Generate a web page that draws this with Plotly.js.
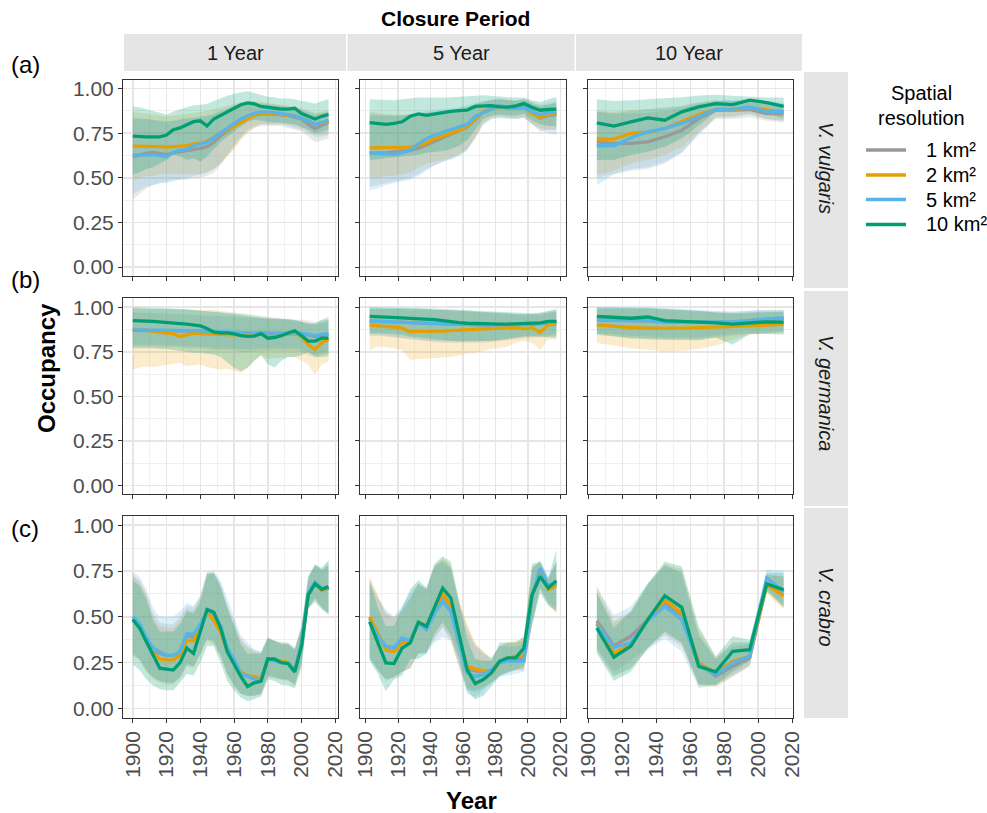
<!DOCTYPE html>
<html>
<head>
<meta charset="utf-8">
<script src="https://cdn.plot.ly/plotly-3.0.1.min.js"></script>
<style>html,body{margin:0;padding:0;background:#fff}#chart{width:987px;height:813px}</style>
</head>
<body>
<div id="chart"></div>
<script>
// ---------- DATA ----------
const resolutions = ["1 km²", "2 km²", "5 km²", "10 km²"];
const periods = ["1 Year", "5 Year", "10 Year"];
const species = ["V. vulgaris", "V. germanica", "V. crabro"];
const panelTags = ["(a)", "(b)", "(c)"];
const xTicks = [1900, 1920, 1940, 1960, 1980, 2000, 2020];
const yTicks = [0, 0.25, 0.5, 0.75, 1];

const years_1yr = [1900,1904,1908,1912,1916,1920,1924,1928,1932,1936,1940,1944,1948,1952,1956,1960,1964,1968,1972,1976,1980,1984,1988,1992,1996,2000,2004,2008,2012,2016];
const years_5yr = [1902.5,1907.5,1912.5,1917.5,1922.5,1927.5,1932.5,1937.5,1942.5,1947.5,1952.5,1957.5,1962.5,1967.5,1972.5,1977.5,1982.5,1987.5,1992.5,1997.5,2002.5,2007.5,2012.5,2017.5];
const years_10yr = [1905,1915,1925,1935,1945,1955,1965,1975,1985,1995,2005,2015];

// V. vulgaris, 1 year closure
const vul_1yr_1km    = [0.618,0.628,0.638,0.643,0.638,0.630,0.640,0.646,0.650,0.655,0.665,0.675,0.700,0.735,0.765,0.790,0.815,0.840,0.855,0.860,0.858,0.855,0.855,0.850,0.840,0.830,0.800,0.775,0.795,0.810];
const vul_1yr_1km_lo = [0.38,0.41,0.44,0.46,0.47,0.48,0.49,0.49,0.49,0.50,0.50,0.51,0.53,0.57,0.62,0.67,0.72,0.76,0.78,0.79,0.79,0.79,0.79,0.78,0.77,0.76,0.73,0.70,0.71,0.72];
const vul_1yr_1km_hi = [0.83,0.83,0.83,0.825,0.82,0.815,0.82,0.825,0.83,0.835,0.84,0.845,0.855,0.87,0.885,0.90,0.91,0.915,0.915,0.91,0.91,0.905,0.90,0.895,0.89,0.88,0.865,0.85,0.86,0.87];
const vul_1yr_2km    = [0.678,0.678,0.675,0.675,0.675,0.672,0.675,0.675,0.680,0.690,0.695,0.705,0.730,0.750,0.770,0.790,0.815,0.835,0.850,0.858,0.860,0.858,0.855,0.850,0.848,0.835,0.820,0.800,0.810,0.817];
const vul_1yr_2km_lo = [0.49,0.50,0.51,0.51,0.52,0.52,0.52,0.52,0.52,0.52,0.52,0.53,0.55,0.58,0.62,0.66,0.71,0.75,0.78,0.80,0.80,0.80,0.80,0.80,0.79,0.78,0.76,0.74,0.74,0.75];
const vul_1yr_2km_hi = [0.87,0.865,0.86,0.855,0.85,0.845,0.85,0.855,0.86,0.865,0.87,0.875,0.885,0.895,0.905,0.915,0.925,0.93,0.93,0.925,0.92,0.915,0.91,0.905,0.90,0.89,0.88,0.865,0.87,0.88];
const vul_1yr_5km    = [0.628,0.630,0.632,0.630,0.625,0.620,0.645,0.655,0.660,0.680,0.690,0.700,0.725,0.750,0.775,0.800,0.830,0.848,0.862,0.868,0.870,0.865,0.860,0.855,0.848,0.835,0.815,0.800,0.810,0.823];
const vul_1yr_5km_lo = [0.41,0.43,0.45,0.46,0.47,0.47,0.48,0.49,0.50,0.51,0.52,0.53,0.55,0.58,0.63,0.68,0.73,0.77,0.79,0.80,0.80,0.80,0.80,0.79,0.78,0.77,0.75,0.73,0.73,0.74];
const vul_1yr_5km_hi = [0.84,0.835,0.83,0.825,0.82,0.815,0.82,0.83,0.835,0.84,0.845,0.85,0.86,0.875,0.89,0.905,0.915,0.92,0.92,0.92,0.915,0.91,0.905,0.90,0.89,0.88,0.87,0.86,0.865,0.87];
const vul_1yr_10km    = [0.734,0.730,0.730,0.730,0.730,0.740,0.770,0.780,0.800,0.815,0.820,0.790,0.830,0.850,0.865,0.885,0.910,0.920,0.915,0.900,0.895,0.890,0.885,0.885,0.890,0.860,0.845,0.830,0.845,0.855];
const vul_1yr_10km_lo = [0.52,0.53,0.55,0.56,0.58,0.60,0.63,0.62,0.60,0.61,0.59,0.62,0.66,0.70,0.73,0.76,0.79,0.815,0.825,0.82,0.815,0.81,0.81,0.805,0.80,0.785,0.77,0.75,0.76,0.77];
const vul_1yr_10km_hi = [0.90,0.895,0.885,0.875,0.865,0.855,0.87,0.885,0.895,0.905,0.91,0.915,0.93,0.945,0.96,0.97,0.98,0.985,0.975,0.965,0.955,0.95,0.945,0.945,0.94,0.93,0.925,0.915,0.93,0.94];

// V. vulgaris, 5 year closure
const vul_5yr_1km    = [0.64,0.64,0.64,0.645,0.65,0.655,0.665,0.685,0.705,0.725,0.74,0.76,0.785,0.825,0.87,0.89,0.90,0.895,0.89,0.90,0.865,0.835,0.85,0.855];
const vul_5yr_1km_lo = [0.45,0.46,0.47,0.48,0.49,0.50,0.52,0.55,0.57,0.59,0.61,0.63,0.66,0.72,0.80,0.83,0.84,0.835,0.83,0.84,0.80,0.76,0.77,0.77];
const vul_5yr_1km_hi = [0.85,0.85,0.85,0.85,0.85,0.855,0.86,0.865,0.87,0.875,0.88,0.885,0.895,0.91,0.925,0.935,0.94,0.935,0.93,0.94,0.92,0.905,0.91,0.92];
const vul_5yr_2km    = [0.668,0.668,0.668,0.668,0.668,0.672,0.68,0.695,0.72,0.735,0.748,0.765,0.79,0.83,0.87,0.885,0.90,0.89,0.89,0.895,0.86,0.84,0.855,0.86];
const vul_5yr_2km_lo = [0.50,0.50,0.51,0.51,0.52,0.53,0.56,0.58,0.59,0.60,0.61,0.63,0.66,0.72,0.81,0.84,0.845,0.835,0.835,0.84,0.80,0.78,0.77,0.77];
const vul_5yr_2km_hi = [0.87,0.865,0.86,0.855,0.855,0.855,0.86,0.865,0.87,0.875,0.88,0.885,0.895,0.91,0.925,0.935,0.94,0.935,0.93,0.94,0.915,0.90,0.91,0.92];
const vul_5yr_5km    = [0.64,0.637,0.633,0.632,0.64,0.655,0.69,0.72,0.74,0.755,0.767,0.782,0.80,0.845,0.865,0.89,0.905,0.895,0.89,0.893,0.87,0.855,0.865,0.865];
const vul_5yr_5km_lo = [0.43,0.44,0.46,0.47,0.48,0.49,0.51,0.54,0.57,0.59,0.60,0.62,0.65,0.73,0.80,0.83,0.835,0.83,0.83,0.835,0.80,0.77,0.75,0.74];
const vul_5yr_5km_hi = [0.86,0.855,0.85,0.85,0.85,0.855,0.865,0.875,0.88,0.885,0.89,0.895,0.905,0.92,0.93,0.94,0.945,0.94,0.935,0.94,0.925,0.91,0.92,0.93];
const vul_5yr_10km    = [0.81,0.806,0.80,0.805,0.814,0.845,0.858,0.85,0.858,0.866,0.872,0.877,0.879,0.90,0.903,0.905,0.898,0.896,0.903,0.916,0.895,0.879,0.883,0.885];
const vul_5yr_10km_lo = [0.60,0.605,0.61,0.615,0.62,0.625,0.63,0.64,0.645,0.65,0.66,0.68,0.71,0.77,0.83,0.85,0.855,0.85,0.85,0.86,0.82,0.80,0.79,0.79];
const vul_5yr_10km_hi = [0.94,0.937,0.935,0.935,0.94,0.945,0.95,0.95,0.948,0.95,0.952,0.955,0.958,0.962,0.963,0.96,0.955,0.952,0.95,0.95,0.935,0.925,0.94,0.953];

// V. vulgaris, 10 year closure
const vul_10yr_1km    = [0.702,0.693,0.693,0.702,0.73,0.767,0.832,0.879,0.879,0.883,0.86,0.86];
const vul_10yr_1km_lo = [0.50,0.52,0.54,0.55,0.58,0.64,0.75,0.83,0.83,0.84,0.82,0.81];
const vul_10yr_1km_hi = [0.87,0.86,0.86,0.865,0.875,0.89,0.915,0.93,0.93,0.93,0.915,0.905];
const vul_10yr_2km    = [0.717,0.717,0.749,0.754,0.777,0.814,0.855,0.883,0.883,0.892,0.879,0.87];
const vul_10yr_2km_lo = [0.516,0.54,0.58,0.60,0.63,0.67,0.76,0.84,0.845,0.86,0.83,0.82];
const vul_10yr_2km_hi = [0.88,0.87,0.88,0.885,0.89,0.90,0.92,0.93,0.93,0.935,0.925,0.91];
const vul_10yr_5km    = [0.68,0.68,0.724,0.758,0.777,0.805,0.842,0.883,0.885,0.897,0.87,0.873];
const vul_10yr_5km_lo = [0.46,0.52,0.55,0.56,0.59,0.64,0.74,0.84,0.84,0.855,0.83,0.82];
const vul_10yr_5km_hi = [0.87,0.86,0.875,0.885,0.895,0.905,0.925,0.935,0.935,0.94,0.93,0.92];
const vul_10yr_10km    = [0.808,0.79,0.814,0.836,0.823,0.87,0.898,0.916,0.91,0.935,0.922,0.90];
const vul_10yr_10km_lo = [0.60,0.60,0.628,0.646,0.674,0.72,0.795,0.87,0.87,0.879,0.86,0.832];
const vul_10yr_10km_hi = [0.94,0.93,0.935,0.94,0.945,0.952,0.962,0.966,0.96,0.955,0.95,0.95];

// V. germanica, 1 year closure
const ger_1yr_1km    = [0.87,0.87,0.87,0.869,0.868,0.868,0.867,0.866,0.866,0.865,0.863,0.861,0.858,0.856,0.855,0.854,0.854,0.853,0.853,0.852,0.852,0.851,0.851,0.851,0.851,0.85,0.843,0.835,0.842,0.848];
const ger_1yr_1km_lo = [0.78,0.78,0.78,0.78,0.775,0.775,0.775,0.775,0.77,0.77,0.77,0.765,0.76,0.76,0.76,0.755,0.75,0.75,0.75,0.755,0.755,0.755,0.755,0.755,0.755,0.75,0.73,0.72,0.73,0.74];
const ger_1yr_1km_hi = [0.97,0.97,0.97,0.968,0.966,0.964,0.962,0.96,0.958,0.956,0.954,0.952,0.95,0.948,0.946,0.944,0.942,0.94,0.938,0.936,0.934,0.932,0.93,0.93,0.93,0.93,0.925,0.915,0.925,0.93];
const ger_1yr_2km    = [0.877,0.875,0.87,0.865,0.86,0.857,0.85,0.835,0.845,0.855,0.852,0.85,0.847,0.845,0.845,0.845,0.845,0.847,0.85,0.856,0.836,0.838,0.842,0.85,0.855,0.835,0.79,0.762,0.80,0.82];
const ger_1yr_2km_lo = [0.649,0.66,0.668,0.665,0.67,0.675,0.68,0.687,0.67,0.675,0.68,0.665,0.655,0.649,0.655,0.645,0.63,0.66,0.70,0.73,0.71,0.715,0.715,0.72,0.72,0.70,0.68,0.62,0.68,0.696];
const ger_1yr_2km_hi = [1.0,0.995,0.99,0.99,0.99,0.99,0.99,0.99,0.99,0.985,0.985,0.985,0.985,0.98,0.975,0.97,0.965,0.96,0.955,0.95,0.945,0.94,0.935,0.93,0.925,0.915,0.905,0.90,0.91,0.92];
const ger_1yr_5km    = [0.873,0.873,0.872,0.872,0.871,0.87,0.87,0.87,0.87,0.869,0.867,0.865,0.862,0.86,0.858,0.858,0.857,0.857,0.857,0.857,0.856,0.856,0.856,0.856,0.856,0.855,0.848,0.84,0.848,0.852];
const ger_1yr_5km_lo = [0.79,0.79,0.79,0.79,0.79,0.785,0.785,0.785,0.78,0.78,0.78,0.775,0.77,0.77,0.77,0.77,0.765,0.765,0.765,0.77,0.77,0.77,0.77,0.77,0.77,0.765,0.745,0.735,0.745,0.755];
const ger_1yr_5km_hi = [0.99,0.99,0.99,0.99,0.99,0.99,0.99,0.985,0.985,0.985,0.98,0.978,0.975,0.972,0.97,0.967,0.965,0.96,0.955,0.95,0.945,0.94,0.935,0.93,0.925,0.915,0.91,0.905,0.915,0.93];
const ger_1yr_10km    = [0.925,0.925,0.922,0.92,0.918,0.916,0.913,0.908,0.905,0.902,0.896,0.88,0.86,0.856,0.856,0.85,0.84,0.836,0.838,0.852,0.826,0.83,0.84,0.855,0.868,0.84,0.81,0.81,0.826,0.826];
const ger_1yr_10km_lo = [0.77,0.77,0.77,0.77,0.765,0.765,0.76,0.755,0.75,0.745,0.745,0.74,0.735,0.72,0.69,0.66,0.64,0.66,0.70,0.73,0.68,0.66,0.70,0.72,0.72,0.73,0.75,0.72,0.72,0.725];
const ger_1yr_10km_hi = [1.0,1.0,0.998,0.996,0.995,0.994,0.993,0.99,0.988,0.985,0.982,0.98,0.975,0.97,0.965,0.96,0.955,0.95,0.945,0.94,0.935,0.935,0.935,0.935,0.93,0.92,0.91,0.91,0.93,0.945];

// V. germanica, 5 year closure
const ger_5yr_1km    = [0.922,0.921,0.919,0.917,0.915,0.913,0.911,0.909,0.907,0.905,0.904,0.903,0.902,0.901,0.90,0.90,0.90,0.901,0.902,0.903,0.904,0.907,0.913,0.918];
const ger_5yr_1km_lo = [0.84,0.84,0.835,0.83,0.825,0.82,0.815,0.81,0.805,0.80,0.80,0.80,0.80,0.80,0.80,0.805,0.81,0.815,0.82,0.825,0.83,0.83,0.835,0.84];
const ger_5yr_1km_hi = [0.99,0.99,0.99,0.99,0.99,0.99,0.99,0.99,0.985,0.985,0.985,0.98,0.978,0.975,0.972,0.97,0.967,0.965,0.96,0.96,0.96,0.965,0.97,0.975];
const ger_5yr_2km    = [0.90,0.897,0.892,0.888,0.882,0.862,0.864,0.864,0.864,0.866,0.869,0.872,0.876,0.877,0.878,0.88,0.881,0.884,0.886,0.879,0.885,0.858,0.902,0.904];
const ger_5yr_2km_lo = [0.761,0.78,0.775,0.77,0.76,0.705,0.708,0.715,0.715,0.718,0.72,0.73,0.74,0.745,0.755,0.765,0.77,0.78,0.80,0.81,0.80,0.761,0.82,0.817];
const ger_5yr_2km_hi = [0.99,0.99,0.99,0.99,0.99,0.985,0.985,0.985,0.985,0.985,0.98,0.98,0.978,0.975,0.972,0.97,0.967,0.965,0.96,0.955,0.96,0.955,0.97,0.975];
const ger_5yr_5km    = [0.923,0.922,0.92,0.918,0.916,0.914,0.912,0.91,0.908,0.906,0.905,0.905,0.904,0.903,0.902,0.901,0.901,0.902,0.903,0.904,0.905,0.908,0.915,0.92];
const ger_5yr_5km_lo = [0.845,0.845,0.84,0.835,0.83,0.825,0.82,0.815,0.81,0.81,0.81,0.81,0.81,0.81,0.81,0.815,0.82,0.825,0.83,0.835,0.84,0.84,0.845,0.85];
const ger_5yr_5km_hi = [1.0,1.0,0.998,0.996,0.995,0.993,0.99,0.988,0.986,0.984,0.982,0.98,0.978,0.975,0.972,0.97,0.968,0.966,0.964,0.962,0.96,0.965,0.975,0.985];
const ger_5yr_10km    = [0.948,0.947,0.945,0.943,0.94,0.937,0.935,0.935,0.93,0.925,0.918,0.914,0.91,0.908,0.906,0.905,0.905,0.905,0.907,0.91,0.91,0.912,0.92,0.92];
const ger_5yr_10km_lo = [0.854,0.854,0.852,0.85,0.845,0.835,0.83,0.825,0.82,0.815,0.81,0.808,0.808,0.808,0.81,0.81,0.815,0.82,0.83,0.835,0.835,0.835,0.83,0.83];
const ger_5yr_10km_hi = [1.0,1.0,1.0,0.998,0.997,0.996,0.995,0.994,0.993,0.992,0.99,0.988,0.985,0.98,0.978,0.975,0.972,0.968,0.966,0.966,0.966,0.97,0.98,0.99];

// V. germanica, 10 year closure
const ger_10yr_1km    = [0.928,0.926,0.924,0.924,0.917,0.916,0.915,0.914,0.917,0.924,0.933,0.938];
const ger_10yr_1km_lo = [0.85,0.84,0.83,0.825,0.82,0.82,0.82,0.83,0.84,0.85,0.855,0.86];
const ger_10yr_1km_hi = [0.995,0.995,0.995,0.995,0.99,0.985,0.98,0.975,0.975,0.98,0.985,0.985];
const ger_10yr_2km    = [0.901,0.893,0.886,0.883,0.881,0.883,0.885,0.887,0.89,0.895,0.90,0.905];
const ger_10yr_2km_lo = [0.799,0.785,0.77,0.76,0.752,0.755,0.765,0.785,0.817,0.845,0.85,0.855];
const ger_10yr_2km_hi = [0.99,0.99,0.99,0.99,0.985,0.98,0.975,0.97,0.965,0.965,0.97,0.975];
const ger_10yr_5km    = [0.929,0.927,0.925,0.925,0.918,0.917,0.916,0.915,0.918,0.925,0.935,0.94];
const ger_10yr_5km_lo = [0.854,0.85,0.84,0.835,0.83,0.83,0.83,0.84,0.85,0.855,0.86,0.865];
const ger_10yr_5km_hi = [1.0,1.0,1.0,0.998,0.995,0.99,0.985,0.98,0.975,0.98,0.985,0.985];
const ger_10yr_10km    = [0.948,0.942,0.938,0.945,0.925,0.92,0.918,0.912,0.905,0.912,0.918,0.916];
const ger_10yr_10km_lo = [0.845,0.835,0.825,0.82,0.817,0.815,0.815,0.83,0.789,0.85,0.85,0.845];
const ger_10yr_10km_hi = [1.0,1.0,0.998,0.996,0.99,0.985,0.98,0.97,0.966,0.97,0.975,0.975];

// V. crabro, 1 year closure
const cra_1yr_1km    = [0.49,0.455,0.385,0.315,0.30,0.29,0.29,0.305,0.395,0.39,0.45,0.525,0.50,0.44,0.32,0.26,0.19,0.18,0.17,0.155,0.27,0.265,0.255,0.25,0.21,0.35,0.625,0.68,0.645,0.655];
const cra_1yr_1km_lo = [0.29,0.27,0.21,0.17,0.15,0.14,0.14,0.17,0.24,0.23,0.30,0.38,0.36,0.29,0.19,0.13,0.08,0.07,0.07,0.08,0.18,0.17,0.16,0.155,0.13,0.25,0.55,0.60,0.55,0.52];
const cra_1yr_1km_hi = [0.73,0.70,0.63,0.52,0.47,0.46,0.46,0.50,0.56,0.55,0.61,0.74,0.74,0.68,0.57,0.48,0.38,0.34,0.32,0.31,0.39,0.37,0.36,0.36,0.33,0.45,0.72,0.78,0.76,0.78];
const cra_1yr_2km    = [0.485,0.45,0.375,0.30,0.27,0.265,0.265,0.29,0.37,0.37,0.44,0.53,0.48,0.42,0.31,0.25,0.20,0.175,0.175,0.16,0.27,0.265,0.26,0.25,0.215,0.35,0.625,0.685,0.645,0.66];
const cra_1yr_2km_lo = [0.29,0.26,0.20,0.16,0.14,0.13,0.13,0.16,0.23,0.22,0.29,0.37,0.35,0.28,0.18,0.12,0.08,0.065,0.07,0.075,0.17,0.165,0.155,0.15,0.12,0.24,0.54,0.60,0.55,0.52];
const cra_1yr_2km_hi = [0.72,0.69,0.62,0.50,0.45,0.44,0.44,0.48,0.54,0.53,0.60,0.74,0.73,0.66,0.55,0.46,0.37,0.33,0.31,0.30,0.38,0.37,0.36,0.35,0.32,0.44,0.71,0.78,0.75,0.78];
const cra_1yr_5km    = [0.503,0.465,0.39,0.33,0.31,0.29,0.29,0.31,0.41,0.405,0.46,0.53,0.52,0.45,0.33,0.27,0.19,0.175,0.16,0.15,0.27,0.26,0.25,0.25,0.21,0.36,0.63,0.69,0.655,0.655];
const cra_1yr_5km_lo = [0.30,0.27,0.21,0.17,0.15,0.14,0.14,0.17,0.24,0.23,0.30,0.38,0.37,0.29,0.19,0.13,0.08,0.07,0.07,0.08,0.18,0.17,0.16,0.16,0.13,0.25,0.55,0.60,0.55,0.52];
const cra_1yr_5km_hi = [0.748,0.72,0.65,0.55,0.50,0.50,0.50,0.53,0.575,0.56,0.62,0.745,0.75,0.70,0.60,0.50,0.40,0.36,0.32,0.31,0.39,0.37,0.36,0.36,0.33,0.45,0.73,0.78,0.77,0.80];
const cra_1yr_10km    = [0.485,0.44,0.365,0.29,0.22,0.215,0.21,0.25,0.33,0.30,0.42,0.54,0.525,0.44,0.31,0.24,0.175,0.12,0.14,0.15,0.27,0.27,0.25,0.245,0.20,0.34,0.62,0.68,0.65,0.665];
const cra_1yr_10km_lo = [0.24,0.21,0.16,0.125,0.105,0.10,0.10,0.14,0.19,0.18,0.25,0.34,0.34,0.25,0.15,0.10,0.06,0.04,0.05,0.065,0.16,0.15,0.13,0.125,0.11,0.22,0.55,0.58,0.54,0.51];
const cra_1yr_10km_hi = [0.70,0.67,0.60,0.48,0.42,0.42,0.42,0.46,0.53,0.52,0.58,0.73,0.74,0.67,0.55,0.45,0.35,0.30,0.30,0.30,0.38,0.37,0.35,0.35,0.32,0.44,0.71,0.79,0.76,0.81];

// V. crabro, 5 year closure
const cra_5yr_1km    = [0.49,0.40,0.335,0.335,0.37,0.375,0.465,0.45,0.535,0.62,0.55,0.36,0.215,0.205,0.20,0.21,0.255,0.27,0.275,0.27,0.615,0.73,0.66,0.68];
const cra_5yr_1km_lo = [0.28,0.21,0.16,0.17,0.20,0.22,0.30,0.30,0.38,0.44,0.37,0.23,0.10,0.09,0.11,0.14,0.18,0.20,0.21,0.21,0.46,0.65,0.57,0.53];
const cra_5yr_1km_hi = [0.71,0.61,0.52,0.50,0.54,0.60,0.68,0.65,0.78,0.81,0.77,0.58,0.45,0.35,0.31,0.27,0.34,0.36,0.36,0.37,0.77,0.80,0.71,0.80];
const cra_5yr_2km    = [0.50,0.41,0.32,0.31,0.36,0.365,0.465,0.455,0.54,0.63,0.555,0.36,0.23,0.215,0.205,0.20,0.25,0.275,0.285,0.285,0.62,0.74,0.65,0.67];
const cra_5yr_2km_lo = [0.28,0.21,0.16,0.17,0.20,0.22,0.30,0.31,0.39,0.45,0.38,0.24,0.11,0.10,0.12,0.14,0.18,0.20,0.21,0.21,0.46,0.66,0.57,0.52];
const cra_5yr_2km_hi = [0.72,0.62,0.52,0.49,0.53,0.60,0.68,0.65,0.78,0.82,0.78,0.59,0.46,0.36,0.31,0.27,0.34,0.36,0.37,0.38,0.77,0.80,0.70,0.80];
const cra_5yr_5km    = [0.475,0.395,0.34,0.33,0.385,0.37,0.465,0.43,0.52,0.585,0.53,0.36,0.195,0.175,0.185,0.21,0.25,0.258,0.258,0.258,0.61,0.765,0.67,0.685];
const cra_5yr_5km_lo = [0.27,0.21,0.15,0.17,0.20,0.22,0.30,0.30,0.36,0.39,0.37,0.22,0.08,0.06,0.10,0.14,0.17,0.18,0.19,0.20,0.47,0.66,0.58,0.55];
const cra_5yr_5km_hi = [0.68,0.60,0.54,0.50,0.56,0.63,0.68,0.65,0.77,0.80,0.76,0.57,0.42,0.34,0.30,0.28,0.34,0.34,0.34,0.35,0.76,0.81,0.72,0.80];
const cra_5yr_10km    = [0.472,0.358,0.249,0.245,0.33,0.358,0.472,0.448,0.557,0.657,0.603,0.412,0.212,0.136,0.158,0.194,0.258,0.276,0.276,0.33,0.62,0.72,0.657,0.697];
const cra_5yr_10km_lo = [0.26,0.19,0.094,0.158,0.18,0.27,0.27,0.30,0.41,0.47,0.40,0.27,0.10,0.049,0.07,0.12,0.176,0.194,0.212,0.23,0.45,0.63,0.56,0.53];
const cra_5yr_10km_hi = [0.70,0.55,0.45,0.45,0.55,0.65,0.70,0.66,0.79,0.83,0.80,0.58,0.38,0.27,0.26,0.26,0.36,0.36,0.36,0.395,0.79,0.80,0.71,0.866];

// V. crabro, 10 year closure
const cra_10yr_1km    = [0.479,0.343,0.394,0.485,0.575,0.51,0.249,0.176,0.23,0.276,0.68,0.635];
const cra_10yr_1km_lo = [0.33,0.20,0.26,0.33,0.40,0.34,0.13,0.12,0.17,0.23,0.64,0.55];
const cra_10yr_1km_hi = [0.64,0.47,0.52,0.67,0.78,0.74,0.40,0.27,0.34,0.35,0.73,0.72];
const cra_10yr_2km    = [0.466,0.303,0.348,0.485,0.593,0.52,0.249,0.194,0.258,0.285,0.675,0.615];
const cra_10yr_2km_lo = [0.32,0.17,0.22,0.33,0.41,0.35,0.12,0.12,0.18,0.24,0.63,0.54];
const cra_10yr_2km_hi = [0.67,0.48,0.53,0.68,0.79,0.76,0.43,0.28,0.36,0.36,0.73,0.72];
const cra_10yr_5km    = [0.457,0.334,0.358,0.48,0.557,0.485,0.24,0.185,0.249,0.285,0.711,0.639];
const cra_10yr_5km_lo = [0.31,0.18,0.22,0.32,0.38,0.31,0.11,0.13,0.18,0.23,0.66,0.55];
const cra_10yr_5km_hi = [0.66,0.51,0.557,0.684,0.78,0.74,0.40,0.27,0.36,0.36,0.76,0.75];
const cra_10yr_10km    = [0.439,0.28,0.34,0.485,0.615,0.552,0.23,0.20,0.312,0.321,0.68,0.648];
const cra_10yr_10km_lo = [0.30,0.15,0.20,0.33,0.42,0.36,0.13,0.13,0.20,0.26,0.64,0.56];
const cra_10yr_10km_hi = [0.63,0.44,0.53,0.68,0.802,0.775,0.448,0.285,0.394,0.375,0.74,0.74];

// ---------- TABLE (built from the arrays above) ----------
const yearsByPeriod = [years_1yr, years_5yr, years_10yr];
const table = {
  vul: {
    "1yr": [[vul_1yr_1km,vul_1yr_1km_lo,vul_1yr_1km_hi],[vul_1yr_2km,vul_1yr_2km_lo,vul_1yr_2km_hi],[vul_1yr_5km,vul_1yr_5km_lo,vul_1yr_5km_hi],[vul_1yr_10km,vul_1yr_10km_lo,vul_1yr_10km_hi]],
    "5yr": [[vul_5yr_1km,vul_5yr_1km_lo,vul_5yr_1km_hi],[vul_5yr_2km,vul_5yr_2km_lo,vul_5yr_2km_hi],[vul_5yr_5km,vul_5yr_5km_lo,vul_5yr_5km_hi],[vul_5yr_10km,vul_5yr_10km_lo,vul_5yr_10km_hi]],
    "10yr": [[vul_10yr_1km,vul_10yr_1km_lo,vul_10yr_1km_hi],[vul_10yr_2km,vul_10yr_2km_lo,vul_10yr_2km_hi],[vul_10yr_5km,vul_10yr_5km_lo,vul_10yr_5km_hi],[vul_10yr_10km,vul_10yr_10km_lo,vul_10yr_10km_hi]]
  },
  ger: {
    "1yr": [[ger_1yr_1km,ger_1yr_1km_lo,ger_1yr_1km_hi],[ger_1yr_2km,ger_1yr_2km_lo,ger_1yr_2km_hi],[ger_1yr_5km,ger_1yr_5km_lo,ger_1yr_5km_hi],[ger_1yr_10km,ger_1yr_10km_lo,ger_1yr_10km_hi]],
    "5yr": [[ger_5yr_1km,ger_5yr_1km_lo,ger_5yr_1km_hi],[ger_5yr_2km,ger_5yr_2km_lo,ger_5yr_2km_hi],[ger_5yr_5km,ger_5yr_5km_lo,ger_5yr_5km_hi],[ger_5yr_10km,ger_5yr_10km_lo,ger_5yr_10km_hi]],
    "10yr": [[ger_10yr_1km,ger_10yr_1km_lo,ger_10yr_1km_hi],[ger_10yr_2km,ger_10yr_2km_lo,ger_10yr_2km_hi],[ger_10yr_5km,ger_10yr_5km_lo,ger_10yr_5km_hi],[ger_10yr_10km,ger_10yr_10km_lo,ger_10yr_10km_hi]]
  },
  cra: {
    "1yr": [[cra_1yr_1km,cra_1yr_1km_lo,cra_1yr_1km_hi],[cra_1yr_2km,cra_1yr_2km_lo,cra_1yr_2km_hi],[cra_1yr_5km,cra_1yr_5km_lo,cra_1yr_5km_hi],[cra_1yr_10km,cra_1yr_10km_lo,cra_1yr_10km_hi]],
    "5yr": [[cra_5yr_1km,cra_5yr_1km_lo,cra_5yr_1km_hi],[cra_5yr_2km,cra_5yr_2km_lo,cra_5yr_2km_hi],[cra_5yr_5km,cra_5yr_5km_lo,cra_5yr_5km_hi],[cra_5yr_10km,cra_5yr_10km_lo,cra_5yr_10km_hi]],
    "10yr": [[cra_10yr_1km,cra_10yr_1km_lo,cra_10yr_1km_hi],[cra_10yr_2km,cra_10yr_2km_lo,cra_10yr_2km_hi],[cra_10yr_5km,cra_10yr_5km_lo,cra_10yr_5km_hi],[cra_10yr_10km,cra_10yr_10km_lo,cra_10yr_10km_hi]]
  }
};
const speciesKeys = ["vul", "ger", "cra"];
const periodKeys = ["1yr", "5yr", "10yr"];

// ---------- STYLE / LAYOUT ----------
const W = 987, H = 813;
const px = x => x / W;
const py = y => 1 - y / H;
const lineColors = ["#999999", "#E69F00", "#56B4E9", "#009E73"];
const fillColors = ["rgba(153,153,153,0.22)", "rgba(230,159,0,0.20)", "rgba(86,180,233,0.22)", "rgba(0,158,115,0.24)"];
const colPx = [[123, 338.3], [360.3, 565.7], [587.5, 793]];
const rowPx = [[79.7, 276], [298.3, 494.3], [516, 717.7]];
const xRanges = [[1894.2, 2021.8], [1896.75, 2023.25], [1899.5, 2020.5]];
const FONT = "Liberation Sans, Arial, Helvetica, sans-serif";
const LW = 3.3;

const traces = [];
const layout = {
  width: W, height: H,
  margin: {l: 0, r: 0, t: 0, b: 0},
  paper_bgcolor: "#ffffff", plot_bgcolor: "#ffffff",
  font: {family: FONT, color: "#000"},
  showlegend: false,
  shapes: [], annotations: []
};

for (let r = 0; r < 3; r++) {
  for (let c = 0; c < 3; c++) {
    const k = r * 3 + c + 1;
    const xa = "xaxis" + (k === 1 ? "" : k), ya = "yaxis" + (k === 1 ? "" : k);
    const xr = "x" + (k === 1 ? "" : k), yr = "y" + (k === 1 ? "" : k);
    layout[xa] = {
      domain: [px(colPx[c][0]), px(colPx[c][1])], range: xRanges[c], anchor: yr,
      tickmode: "array", tickvals: xTicks, ticks: "outside", ticklen: 4, tickwidth: 1, tickcolor: "#333333",
      showticklabels: r === 2, tickangle: -90, tickfont: {family: FONT, size: 21, color: "#4D4D4D"},
      showgrid: true, gridcolor: "#E6E6E6", gridwidth: 1.5,
      minor: {tickvals: [1910, 1930, 1950, 1970, 1990, 2010], showgrid: true, gridcolor: "#EEEEEE", gridwidth: 0.9, ticks: ""},
      showline: true, linecolor: "#333333", linewidth: 1, mirror: true, zeroline: false, fixedrange: true
    };
    layout[ya] = {
      domain: [py(rowPx[r][1]), py(rowPx[r][0])], range: [-0.05, 1.05], anchor: xr,
      tickmode: "array", tickvals: yTicks, tickformat: ".2f", ticks: "outside", ticklen: 4, tickwidth: 1, tickcolor: "#333333",
      showticklabels: c === 0, tickfont: {family: FONT, size: 21, color: "#4D4D4D"},
      showgrid: true, gridcolor: "#E6E6E6", gridwidth: 1.5,
      minor: {tickvals: [0.125, 0.375, 0.625, 0.875], showgrid: true, gridcolor: "#EEEEEE", gridwidth: 0.9, ticks: ""},
      showline: true, linecolor: "#333333", linewidth: 1, mirror: true, zeroline: false, fixedrange: true
    };
    const xs = yearsByPeriod[c];
    const series = table[speciesKeys[r]][periodKeys[c]];
    for (let s = 0; s < 4; s++) {
      const [mean, lo, hi] = series[s];
      traces.push({
        type: "scatter", mode: "lines", xaxis: xr, yaxis: yr,
        x: xs.concat(xs.slice().reverse()), y: hi.concat(lo.slice().reverse()),
        fill: "toself", fillcolor: fillColors[s], line: {width: 0}, hoverinfo: "skip", showlegend: false
      });
    }
    for (let s = 0; s < 4; s++) {
      const [mean] = series[s];
      traces.push({
        type: "scatter", mode: "lines", xaxis: xr, yaxis: yr,
        x: xs, y: mean, name: resolutions[s], legendgroup: resolutions[s],
        showlegend: false, line: {color: lineColors[s], width: LW}
      });
    }
  }
}

// facet strips (top)
const topStrips = [[124, 346], [347.5, 574.5], [576, 802]];
for (let c = 0; c < 3; c++) {
  layout.shapes.push({type: "rect", xref: "paper", yref: "paper", x0: px(topStrips[c][0]), x1: px(topStrips[c][1]), y0: py(71), y1: py(34), fillcolor: "#E5E5E5", line: {width: 0}, layer: "below"});
  layout.annotations.push({xref: "paper", yref: "paper", x: px((topStrips[c][0] + topStrips[c][1]) / 2), y: py(53), text: periods[c], showarrow: false, xanchor: "center", yanchor: "middle", font: {family: FONT, size: 20, color: "#1A1A1A"}});
}
// facet strips (right)
const rightStrips = [[72, 288], [291, 506], [508, 718]];
const rightTextY = [168, 393, 607];
for (let r = 0; r < 3; r++) {
  layout.shapes.push({type: "rect", xref: "paper", yref: "paper", x0: px(804), x1: px(848), y0: py(rightStrips[r][1]), y1: py(rightStrips[r][0]), fillcolor: "#E5E5E5", line: {width: 0}, layer: "below"});
  layout.annotations.push({xref: "paper", yref: "paper", x: px(826), y: py(rightTextY[r]), text: "<i>" + species[r] + "</i>", textangle: 90, showarrow: false, xanchor: "center", yanchor: "middle", font: {family: FONT, size: 20, color: "#1A1A1A"}});
}
// panel tags
const tagY = [64, 279, 528];
for (let r = 0; r < 3; r++) {
  layout.annotations.push({xref: "paper", yref: "paper", x: px(25), y: py(tagY[r]), text: panelTags[r], showarrow: false, xanchor: "center", yanchor: "middle", font: {family: FONT, size: 24, color: "#000"}});
}
// titles
layout.annotations.push({xref: "paper", yref: "paper", x: px(455), y: py(18), text: "<b>Closure Period</b>", showarrow: false, xanchor: "center", yanchor: "middle", font: {family: FONT, size: 21, color: "#000"}});
layout.annotations.push({xref: "paper", yref: "paper", x: px(46), y: py(368), text: "<b>Occupancy</b>", textangle: -90, showarrow: false, xanchor: "center", yanchor: "middle", font: {family: FONT, size: 24, color: "#000"}});
layout.annotations.push({xref: "paper", yref: "paper", x: px(471), y: py(800), text: "<b>Year</b>", showarrow: false, xanchor: "center", yanchor: "middle", font: {family: FONT, size: 24, color: "#000"}});

// legend (key) for spatial resolution
layout.annotations.push({xref: "paper", yref: "paper", x: px(921), y: py(93), text: "Spatial", showarrow: false, xanchor: "center", yanchor: "middle", font: {family: FONT, size: 20, color: "#000"}});
layout.annotations.push({xref: "paper", yref: "paper", x: px(921), y: py(118), text: "resolution", showarrow: false, xanchor: "center", yanchor: "middle", font: {family: FONT, size: 20, color: "#000"}});
const keyY = [150, 175, 199.5, 224.5];
for (let s = 0; s < 4; s++) {
  layout.shapes.push({type: "line", xref: "paper", yref: "paper", x0: px(866), x1: px(906), y0: py(keyY[s]), y1: py(keyY[s]), line: {color: lineColors[s], width: LW}});
  layout.annotations.push({xref: "paper", yref: "paper", x: px(924), y: py(keyY[s]), text: resolutions[s], showarrow: false, xanchor: "left", yanchor: "middle", font: {family: FONT, size: 20, color: "#000"}});
}

Plotly.newPlot("chart", traces, layout, {staticPlot: true, displayModeBar: false});
</script>
</body>
</html>
